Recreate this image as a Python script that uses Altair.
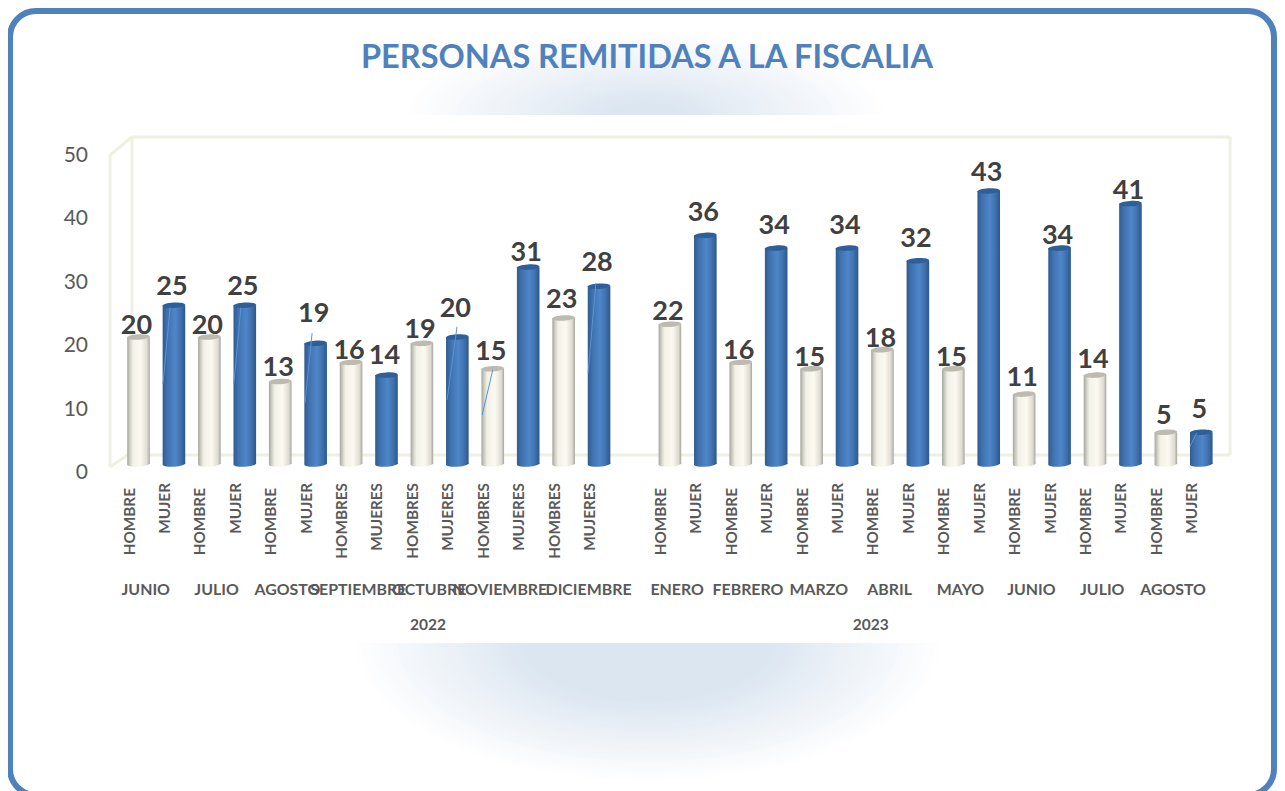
import altair as alt
import numpy as np
import pandas as pd

TITLE = "PERSONAS REMITIDAS A LA FISCALIA"
FONT = "Lato"

slots_2022 = list(range(14))
slots_2023 = list(range(15, 31))
values_2022 = [20, 25, 20, 25, 13, 19, 16, 14, 19, 20, 15, 31, 23, 28]
values_2023 = [22, 36, 16, 34, 15, 34, 18, 32, 15, 43, 11, 34, 14, 41, 5, 5]
sex_2022 = ["HOMBRE", "MUJER"] * 3 + ["HOMBRES", "MUJERES"] * 4
sex_2023 = ["HOMBRE", "MUJER"] * 8
lift_2022 = [13, 20, 13, 20, 15, 31, 13, 21, 15, 30, 18, 16, 19, 25]
lift_2023 = [14, 24, 13, 24, 12, 24, 12, 23, 12, 19, 18, 14, 17, 14, 18, 24]
axis_ticks = [0, 10, 20, 30, 40, 50]

months = ["JUNIO", "JULIO", "AGOSTO", "SEPTIEMBRE", "OCTUBRE", "NOVIEMBRE", "DICIEMBRE",
          "ENERO", "FEBRERO", "MARZO", "ABRIL", "MAYO", "JUNIO", "JULIO", "AGOSTO"]
month_slots = [0.5, 2.5, 4.5, 6.5, 8.5, 10.5, 13.0, 15.5, 17.5, 19.5, 21.5, 23.5, 25.5, 27.5, 29.5]
years = ["2022", "2023"]
year_slots = [8.2, 20.7]

leader_x1 = [0.69, 2.69, 4.70, 8.71, 9.70, 12.69, 29.68]
leader_x2 = [0.89, 2.89, 4.90, 8.99, 10.0, 12.91, 29.87]
leader_y1 = [12.6, 12.6, 9.6, 10.1, 7.7, 14.3, 2.7]
leader_y2 = [24.6, 24.6, 20.6, 21.6, 14.8, 28.5, 4.9]

bars = pd.DataFrame({
    "slot": slots_2022 + slots_2023,
    "value": values_2022 + values_2023,
    "sex": sex_2022 + sex_2023,
    "lift": lift_2022 + lift_2023,
})
bars["zero"] = 0
bars["label_at"] = bars["value"] + bars["lift"] / 6.35
men = bars[bars["sex"].str.startswith("H")]
women = bars[bars["sex"].str.startswith("M")]
month_df = pd.DataFrame({"slot": month_slots, "month": months})
year_df = pd.DataFrame({"slot": year_slots, "year": years})
tick_df = pd.DataFrame({"tick": axis_ticks})
leader_df = pd.DataFrame({"x1": leader_x1, "x2": leader_x2, "y1": leader_y1, "y2": leader_y2})

X = alt.Scale(domain=[-0.5, 30.5], range=[112.8, 1211], nice=False, zero=False, padding=0)
Y = alt.Scale(domain=[0, 50], range=[456, 138.5], nice=False)
x = alt.X("slot:Q", scale=X, axis=None)
y_none = alt.Y("value:Q", scale=Y, axis=None, stack=None)


def grad(stops):
    return alt.LinearGradient(
        gradient="linear", x1=0, x2=1, y1=0, y2=0,
        stops=[alt.GradientStop(offset=o, color=c) for o, c in stops])


def glow(cx, cy, rx, ry, plateau, core=(220, 230, 241), steps=34):
    """Soft elliptical halo, drawn as nested ellipses from the rim inwards."""
    ks = np.linspace(1.0, plateau, steps)
    rows = []
    for k in ks:
        t = (1 - k) / (1 - plateau)
        rgb = [round(255 + (c - 255) * t) for c in core]
        rows.append({"size": (2 * rx * k) ** 2, "c": "#%02x%02x%02x" % tuple(rgb)})
    r = ry / rx
    shape = f"M-1,0A1,{r:.4f},0,1,1,1,0A1,{r:.4f},0,1,1,-1,0Z"
    return alt.Chart(pd.DataFrame(rows)).mark_point(shape=shape, filled=True, opacity=1, strokeWidth=0).encode(
        x=alt.value(cx), y=alt.value(cy),
        size=alt.Size("size:Q", scale=None),
        fill=alt.Fill("c:N", scale=None),
    )


BEIGE = grad([(0, "#a5a49b"), (0.1, "#c9c8bf"), (0.25, "#f2f1e8"), (0.6, "#fcfaf0"),
              (0.88, "#dedcd2"), (1, "#a5a49b")])
BLUE = grad([(0, "#2f5b91"), (0.2, "#3f71ad"), (0.55, "#4f86c9"), (0.8, "#3f71ad"), (1, "#2d5789")])
CAP = "M-1,0.06A1,0.24,-3,1,1,1,-0.06A1,0.24,-3,1,1,-1,0.06Z"
BAR_W = 22.6
CAP_SIZE = BAR_W ** 2


def frame_rule(x1, y1, x2, y2):
    return alt.Chart().mark_rule(color="#f0efe3", strokeWidth=3).encode(
        x=alt.value(x1), x2=alt.value(x2), y=alt.value(y1), y2=alt.value(y2))


def cylinders(df, body, cap):
    return [
        alt.Chart(df).mark_bar(size=BAR_W, fill=body).encode(x=x, y=y_none),
        alt.Chart(df).mark_point(shape=CAP, size=CAP_SIZE, filled=True, fill=body, opacity=1, strokeWidth=0)
        .encode(x=x, y=alt.Y("zero:Q", scale=Y, axis=None)),
        alt.Chart(df).mark_point(shape=CAP, size=CAP_SIZE, filled=True, fill=cap, opacity=1, strokeWidth=0)
        .encode(x=x, y=y_none),
    ]


panel = alt.Chart().mark_rect(fill="#ffffff", stroke="#4f81bd", strokeWidth=6, cornerRadius=26).encode(
    x=alt.value(2), x2=alt.value(1266), y=alt.value(3), y2=alt.value(787))
glow_top = glow(637, 107, 245, 85, 0.15)
glow_bottom = glow(640, 635, 297, 140, 0.42)
cover = alt.Chart().mark_rect(fill="#ffffff").encode(
    x=alt.value(6), x2=alt.value(1262), y=alt.value(107), y2=alt.value(635))

title = alt.Chart(pd.DataFrame({"t": [TITLE]})).mark_text(
    font=FONT, fontSize=32.5, fontWeight="bold", color="#4f81bd", align="center", baseline="middle"
).encode(text="t:N", x=alt.value(639), y=alt.value(49.5))

walls = [
    frame_rule(124, 129, 1222, 129),
    frame_rule(1222, 129, 1222, 447),
    frame_rule(124, 129, 124, 447),
    frame_rule(124, 447, 1222, 447),
    frame_rule(102, 147, 124, 129),
    frame_rule(102, 147, 102, 459),
    frame_rule(102, 459, 124, 444),
]

tick_labels = alt.Chart(tick_df).mark_text(
    font=FONT, fontSize=21, color="#595959", align="right", baseline="middle", dy=9
).encode(x=alt.value(80), y=alt.Y("tick:Q", scale=Y, axis=None), text="tick:Q")

leaders = alt.Chart(leader_df).mark_rule(color="#5b93d8", strokeWidth=1).encode(
    x=alt.X("x1:Q", scale=X, axis=None), x2="x2:Q",
    y=alt.Y("y1:Q", scale=Y, axis=None), y2="y2:Q")

value_labels = alt.Chart(bars).mark_text(
    font=FONT, fontSize=27, fontWeight="bold", color="#404040", align="center", baseline="middle", dx=-2, dy=1.5
).encode(x=x, y=alt.Y("label_at:Q", scale=Y, axis=None), text="value:Q")


def sex_labels(df, top):
    return alt.Chart(df).mark_text(
        font=FONT, fontSize=15.3, fontWeight="bold", color="#595959", angle=270,
        align="right", baseline="middle", dy=-9
    ).encode(x=x, y=alt.value(top), text="sex:N")


sex_layers = [
    sex_labels(bars[bars["sex"] == "HOMBRE"], 480),
    sex_labels(bars[bars["sex"] != "HOMBRE"], 475),
]

month_labels = alt.Chart(month_df).mark_text(
    font=FONT, fontSize=15.9, fontWeight="bold", color="#595959", align="center", baseline="middle", dx=-10.5
).encode(x=x, y=alt.value(582), text="month:N")
year_labels = alt.Chart(year_df).mark_text(
    font=FONT, fontSize=15.5, fontWeight="bold", color="#595959", align="center", baseline="middle", dx=-1
).encode(x=x, y=alt.value(617), text="year:N")

chart = alt.layer(
    panel, glow_top, glow_bottom, cover, title, *walls, tick_labels,
    *cylinders(men, BEIGE, "#bdbbb0"),
    *cylinders(women, BLUE, "#2e5f98"),
    leaders, value_labels, *sex_layers, month_labels, year_labels,
).properties(
    width=1269, height=783, padding=0, autosize=alt.AutoSizeParams(type="none")
).configure_view(stroke=None)

chart.save("out.html", embed_options={"renderer": "svg", "actions": False})
